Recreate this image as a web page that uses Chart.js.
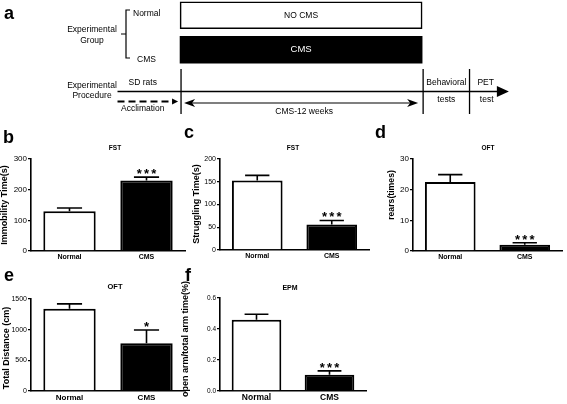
<!DOCTYPE html>
<html><head><meta charset="utf-8">
<script src="https://cdn.jsdelivr.net/npm/chart.js@4.4.0/dist/chart.umd.min.js"></script>
<style>
html,body{margin:0;padding:0;background:#fff;width:567px;height:404px;overflow:hidden;position:relative}
canvas{position:absolute}
</style></head><body>
<canvas id="pa"></canvas>
<canvas id="pb"></canvas>
<canvas id="pc"></canvas>
<canvas id="pd"></canvas>
<canvas id="pe"></canvas>
<canvas id="pf"></canvas>
<script>
// ---------- data ----------
const groupRows = ['Normal', 'CMS'];
const treatmentLabels = ['NO CMS', 'CMS'];
const cmsWeeks = [[0, 12], [0, 12]];
// procedure timeline (weeks): arrow start, CMS start, CMS end, behavioral end, arrow tip
const procedureWeeks = [-3.1, 0, 12, 14.3, 16.3];
const procedureTopLabels = ['SD rats', 'Behavioral', 'PET'];
const procedureTopWeeks = [-1.85, 13.2, 15.15];
const procedureBottomLabels = ['Acclimation', 'CMS-12 weeks', 'tests', 'test'];
const procedureBottomWeeks = [-1.85, 6.15, 13.2, 15.2];

const groups = ['Normal', 'CMS'];
const immobilityTime = [130, 230];
const immobilityErr = [10, 11];
const immobilityTicks = [0, 100, 200, 300];
const strugglingTime = [153, 56];
const strugglingErr = [11, 9];
const strugglingTicks = [0, 50, 100, 150, 200];
const rears = [22.5, 2.0];
const rearsErr = [2.4, 0.7];
const rearsTicks = [0, 10, 20, 30];
const totalDistance = [1340, 780];
const totalDistanceErr = [80, 215];
const totalDistanceTicks = [0, 500, 1000, 1500];
const openArmRatio = [0.46, 0.105];
const openArmErr = [0.035, 0.025];
const openArmTicks = [0.0, 0.2, 0.4, 0.6];
const significance = ['***', '***', '***', '*', '***'];

// ---------- setup ----------
const FONT = 'Arial, "Liberation Sans", sans-serif';
Chart.defaults.font.family = FONT;
Chart.defaults.color = '#000';
Chart.defaults.animation = false;

function place(id, l, t, w, h) {
  const c = document.getElementById(id);
  c.width = w; c.height = h;
  c.style.left = l + 'px'; c.style.top = t + 'px';
  c.style.width = w + 'px'; c.style.height = h + 'px';
  return c;
}

// ---------- panel a ----------
const A = {l: 0, t: -2, w: 567, h: 135};
const scheme = {
  id: 'scheme',
  afterDatasetsDraw(chart) {
    const ctx = chart.ctx, xs = chart.scales.x;
    const P = y => y - A.t;
    const X = w => xs.getPixelForValue(w);
    ctx.save();
    const meta = chart.getDatasetMeta(0);
    ctx.textAlign = 'center'; ctx.textBaseline = 'middle';
    meta.data.forEach((bar, i) => {
      ctx.fillStyle = i === 0 ? '#000' : '#fff';
      ctx.font = (i === 0 ? '8.5px ' : '9.5px ') + FONT;
      ctx.fillText(treatmentLabels[i], (bar.x + bar.base) / 2, bar.y);
    });
    ctx.fillStyle = '#000';
    ctx.font = 'bold 18px ' + FONT;
    ctx.textAlign = 'left'; ctx.textBaseline = 'alphabetic';
    ctx.fillText('a', 4, P(19));
    ctx.font = '8.5px ' + FONT;
    ctx.textBaseline = 'middle';
    ctx.textAlign = 'center';
    ctx.fillText('Experimental', 92, P(30));
    ctx.fillText('Group', 92, P(41));
    ctx.fillText('Experimental', 92, P(86));
    ctx.fillText('Procedure', 92, P(96));
    ctx.textAlign = 'left';
    ctx.fillText(groupRows[0], 133, P(14));
    ctx.fillText(groupRows[1], 137, P(60));
    ctx.strokeStyle = '#000'; ctx.lineWidth = 1.2;
    ctx.beginPath();
    ctx.moveTo(130, P(10)); ctx.lineTo(126, P(10)); ctx.lineTo(126, P(58)); ctx.lineTo(130, P(58));
    ctx.moveTo(126, P(34)); ctx.lineTo(121, P(34));
    ctx.stroke();
    const [w0, w1, w2, w3, w4] = procedureWeeks;
    ctx.lineWidth = 1.3;
    ctx.beginPath();
    ctx.moveTo(X(w0), P(91.5)); ctx.lineTo(X(w4) - 10, P(91.5)); ctx.stroke();
    ctx.beginPath();
    ctx.moveTo(X(w4), P(91.5)); ctx.lineTo(X(w4) - 12, P(86)); ctx.lineTo(X(w4) - 12, P(97)); ctx.closePath(); ctx.fill();
    ctx.beginPath();
    [w1, w2, w3].forEach(w => { ctx.moveTo(X(w) + 1, P(69)); ctx.lineTo(X(w) + 1, P(114)); });
    ctx.stroke();
    ctx.save();
    ctx.lineWidth = 2.2; ctx.setLineDash([7, 4]);
    ctx.beginPath(); ctx.moveTo(X(w0), P(101.5)); ctx.lineTo(X(w1) - 6, P(101.5)); ctx.stroke();
    ctx.restore();
    ctx.beginPath();
    ctx.moveTo(X(w1) - 2, P(101.5)); ctx.lineTo(X(w1) - 8, P(98.5)); ctx.lineTo(X(w1) - 8, P(104.5)); ctx.closePath(); ctx.fill();
    const la = X(w1) + 4, ra = X(w2) - 4;
    ctx.lineWidth = 1.2;
    ctx.beginPath(); ctx.moveTo(la + 6, P(103)); ctx.lineTo(ra - 6, P(103)); ctx.stroke();
    ctx.beginPath();
    ctx.moveTo(la, P(103)); ctx.lineTo(la + 11, P(99)); ctx.lineTo(la + 8, P(103)); ctx.lineTo(la + 11, P(107)); ctx.closePath(); ctx.fill();
    ctx.beginPath();
    ctx.moveTo(ra, P(103)); ctx.lineTo(ra - 11, P(99)); ctx.lineTo(ra - 8, P(103)); ctx.lineTo(ra - 11, P(107)); ctx.closePath(); ctx.fill();
    ctx.textAlign = 'center'; ctx.font = '8.5px ' + FONT;
    procedureTopLabels.forEach((t, i) => ctx.fillText(t, X(procedureTopWeeks[i]), P(83)));
    procedureBottomLabels.forEach((t, i) => {
      const y = i === 0 ? 109 : (i === 1 ? 112 : 100);
      ctx.fillText(t, X(procedureBottomWeeks[i]), P(y));
    });
    ctx.restore();
  }
};
new Chart(place('pa', A.l, A.t, A.w, A.h), {
  type: 'bar',
  data: {labels: groupRows, datasets: [{
    data: cmsWeeks, backgroundColor: ['#fff', '#000'], borderColor: '#000',
    borderWidth: [1.6, 0], borderSkipped: false, barThickness: 27
  }]},
  options: {
    indexAxis: 'y', responsive: false, devicePixelRatio: 1, animation: false,
    layout: {padding: {left: 59, right: 44, top: 0, bottom: 66}},
    scales: {x: {type: 'linear', display: false, min: -6, max: 17}, y: {display: false}},
    plugins: {legend: {display: false}, tooltip: {enabled: false}}
  },
  plugins: [scheme]
});

// ---------- bar panels ----------
const decor = {
  id: 'decor',
  afterDatasetsDraw(chart, args, o) {
    const ctx = chart.ctx, ys = chart.scales.y;
    const meta = chart.getDatasetMeta(0);
    const vals = chart.data.datasets[0].data;
    const ox = o.ox, oy = o.oy;
    ctx.save();
    ctx.strokeStyle = '#000'; ctx.fillStyle = '#000'; ctx.lineWidth = 1.6;
    meta.data.forEach((bar, i) => {
      const y0 = ys.getPixelForValue(vals[i]);
      const y1 = ys.getPixelForValue(vals[i] + o.errors[i]);
      const hw = bar.width * 0.24;
      ctx.beginPath();
      ctx.moveTo(bar.x, y0); ctx.lineTo(bar.x, y1);
      ctx.moveTo(bar.x - hw, y1); ctx.lineTo(bar.x + hw, y1);
      ctx.stroke();
      const s = o.stars[i];
      if (s) {
        ctx.font = 'bold 13px ' + FONT;
        ctx.textAlign = 'center'; ctx.textBaseline = 'alphabetic';
        const n = s.length, gap = 7.3;
        for (let k = 0; k < n; k++) ctx.fillText('*', bar.x + (k - (n - 1) / 2) * gap, y1 + 1);
      }
    });
    ctx.textAlign = 'center'; ctx.textBaseline = 'middle';
    ctx.font = 'bold ' + o.titleSize + 'px ' + FONT;
    ctx.fillText(o.title, o.titlePos[0] - ox, o.titlePos[1] - oy);
    ctx.font = 'bold 18px ' + FONT;
    ctx.textAlign = 'left'; ctx.textBaseline = 'alphabetic';
    ctx.fillText(o.letter, o.letterPos[0] - ox, o.letterPos[1] - oy);
    ctx.translate(o.yTitlePos[0] - ox, o.yTitlePos[1] - oy);
    ctx.rotate(-Math.PI / 2);
    ctx.textAlign = 'center'; ctx.textBaseline = 'middle';
    ctx.font = 'bold ' + o.yTitleSize + 'px ' + FONT;
    ctx.fillText(o.yTitle, 0, 0);
    ctx.restore();
  }
};

const panels = [
  {id: 'pb', canvas: [0, 122, 190, 150], area: [31, 159, 185, 251], values: immobilityTime, errors: immobilityErr,
   ticks: immobilityTicks, stars: ['', significance[0]], title: 'FST', titlePos: [115, 148], titleSize: 6.5,
   letter: 'b', letterPos: [3, 143], yTitle: 'Immobility Time(s)', yTitlePos: [5, 205], yTitleSize: 9,
   tickSize: 8, xSize: 7, dec: 0},
  {id: 'pc', canvas: [180, 122, 195, 150], area: [220, 159, 369, 250], values: strugglingTime, errors: strugglingErr,
   ticks: strugglingTicks, stars: ['', significance[1]], title: 'FST', titlePos: [293, 148], titleSize: 6.5,
   letter: 'c', letterPos: [184, 138], yTitle: 'Struggling Time(s)', yTitlePos: [197, 204], yTitleSize: 9,
   tickSize: 7, xSize: 7, dec: 0},
  {id: 'pd', canvas: [370, 122, 197, 150], area: [413, 159, 562, 251], values: rears, errors: rearsErr,
   ticks: rearsTicks, stars: ['', significance[2]], title: 'OFT', titlePos: [488, 148], titleSize: 6.5,
   letter: 'd', letterPos: [375, 138], yTitle: 'rears(times)', yTitlePos: [391.5, 195], yTitleSize: 8.7,
   tickSize: 8, xSize: 7, dec: 0},
  {id: 'pe', canvas: [0, 262, 190, 142], area: [31, 299, 185, 391], values: totalDistance, errors: totalDistanceErr,
   ticks: totalDistanceTicks, stars: ['', significance[3]], title: 'OFT', titlePos: [115, 287], titleSize: 7.5,
   letter: 'e', letterPos: [4, 281], yTitle: 'Total Distance (cm)', yTitlePos: [6.5, 348], yTitleSize: 9,
   tickSize: 7, xSize: 8, dec: 0},
  {id: 'pf', canvas: [178, 262, 195, 142], area: [220, 298, 366, 391], values: openArmRatio, errors: openArmErr,
   ticks: openArmTicks, stars: ['', significance[4]], title: 'EPM', titlePos: [290, 288], titleSize: 7,
   letter: 'f', letterPos: [185, 281], yTitle: 'open arm/total arm time(%)', yTitlePos: [186, 339], yTitleSize: 9,
   tickSize: 6.5, xSize: 8.5, dec: 1}
];

panels.forEach(p => {
  const [cl, ct, cw, ch] = p.canvas;
  const [al, at, ar, ab] = p.area;
  const t = p.ticks;
  new Chart(place(p.id, cl, ct, cw, ch), {
    type: 'bar',
    data: {labels: groups, datasets: [{
      data: p.values, backgroundColor: ['#fff', '#000'], borderColor: '#000', borderWidth: 2,
      categoryPercentage: 1, barPercentage: 0.68
    }]},
    options: {
      responsive: false, devicePixelRatio: 1, animation: false,
      layout: {padding: {left: 0, top: at - ct, right: cl + cw - ar, bottom: 0}},
      scales: {
        x: {
          grid: {display: false, drawTicks: false},
          border: {display: true, color: '#000', width: 1.6},
          ticks: {font: {size: p.xSize, weight: 'bold'}, padding: 2, color: '#000'},
          afterFit: s => { s.height = ct + ch - ab; }
        },
        y: {
          min: t[0], max: t[t.length - 1],
          grid: {drawOnChartArea: false, drawTicks: true, tickLength: 3, color: '#000', lineWidth: 1.3},
          border: {display: true, color: '#000', width: 1.6},
          ticks: {stepSize: t[1] - t[0], font: {size: p.tickSize}, padding: 1, color: '#000',
                  callback: v => Number(v).toFixed(p.dec)},
          afterFit: s => { s.width = al - cl; }
        }
      },
      plugins: {
        legend: {display: false}, tooltip: {enabled: false},
        decor: {ox: cl, oy: ct, errors: p.errors, stars: p.stars, title: p.title, titlePos: p.titlePos,
                titleSize: p.titleSize, letter: p.letter, letterPos: p.letterPos, yTitle: p.yTitle,
                yTitlePos: p.yTitlePos, yTitleSize: p.yTitleSize}
      }
    },
    plugins: [decor]
  });
});
</script>
</body></html>
